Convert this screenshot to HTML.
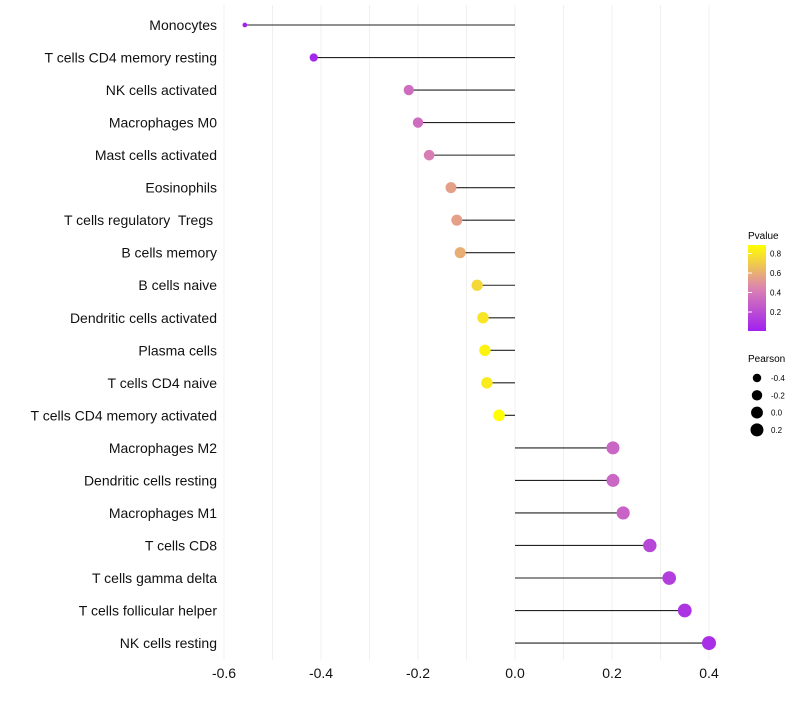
<!DOCTYPE html>
<html><head><meta charset="utf-8"><style>
body{margin:0;background:#fff;font-family:"Liberation Sans",sans-serif}
text{white-space:pre}
</style></head><body>
<svg id="c" width="800" height="700" font-family="Liberation Sans, sans-serif">
<defs><linearGradient id="pg" x1="0" y1="1" x2="0" y2="0">
<stop offset="0" stop-color="#a020f0"/><stop offset="0.5" stop-color="#dc84b0"/><stop offset="1" stop-color="#ffff00"/></linearGradient></defs>
<g id="grid"></g><g id="marks"></g><g id="labels"></g>
<g>
<text x="748" y="239" font-size="10">Pvalue</text>
<rect x="748" y="245" width="18" height="86" fill="url(#pg)"/>
<g font-size="8" id="cbt"></g>
<text x="748" y="362" font-size="10">Pearson</text>
<g id="szl" font-size="8"></g>
</g>
</svg>
<script>
const cells=["Monocytes","T cells CD4 memory resting","NK cells activated","Macrophages M0","Mast cells activated","Eosinophils","T cells regulatory  Tregs ","B cells memory","B cells naive","Dendritic cells activated","Plasma cells","T cells CD4 naive","T cells CD4 memory activated","Macrophages M2","Dendritic cells resting","Macrophages M1","T cells CD8","T cells gamma delta","T cells follicular helper","NK cells resting"];
const pearson=[-0.557,-0.415,-0.219,-0.2,-0.177,-0.132,-0.12,-0.113,-0.078,-0.066,-0.062,-0.058,-0.033,0.202,0.202,0.223,0.278,0.318,0.35,0.4];
const pvalues=[0.02,0.05,0.35,0.35,0.42,0.55,0.55,0.6,0.75,0.8,0.85,0.82,0.9,0.32,0.32,0.3,0.18,0.14,0.1,0.07];
const xTicks=[-0.6,-0.4,-0.2,0.0,0.2,0.4];
const cbTicks=[0.2,0.4,0.6,0.8];
const sizeTicks=[-0.4,-0.2,0.0,0.2];
const NS="http://www.w3.org/2000/svg";
const X=v=>515+v*485;
const Y=i=>25+i*32.53;
const R=v=>2+5*Math.pow(Math.max(0,(v+0.56)/0.96),0.45);
function lerp(a,b,t){return a.map((x,i)=>Math.round(x+(b[i]-x)*t));}
function col(p){const t=Math.max(0,Math.min(1,(p-0.01)/0.88));const A=[160,32,240],M=[220,132,176],B=[255,255,0];
const c=t<0.5?lerp(A,M,t/0.5):lerp(M,B,(t-0.5)/0.5);return `rgb(${c})`;}
function el(tag,at,parent){const e=document.createElementNS(NS,tag);for(const k in at)e.setAttribute(k,at[k]);document.getElementById(parent).appendChild(e);return e;}
for(let v=-0.6;v<=0.41;v+=0.1){const g=el('line',{x1:X(v),x2:X(v),y1:5,y2:660,stroke:'#f0f0f0','stroke-width':1},'grid');

}
xTicks.forEach(v=>{const t=el('text',{x:X(v),y:678,'font-size':14,'text-anchor':'middle',fill:'#111'},'labels');t.textContent=v.toFixed(1);

});
cells.forEach((c,i)=>{
const t=el('text',{x:217,y:Y(i)+5,'font-size':14,'text-anchor':'end',fill:'#111'},'labels');t.textContent=c;


const l=el('line',{x1:X(0),x2:X(pearson[i]),y1:Y(i),y2:Y(i),stroke:'#222','stroke-width':1.1},'marks');


const d=el('circle',{cx:X(pearson[i]),cy:Y(i),r:R(pearson[i]),fill:col(pvalues[i])},'marks');


});
cbTicks.forEach(v=>{const y=331.5-v*97.5;
const t=el('text',{x:770,y:y+3},'cbt');t.textContent=v.toFixed(1);


const k=el('line',{x1:748,x2:752,y1:y,y2:y,stroke:'#fff'},'cbt');

});
sizeTicks.forEach((v,i)=>{const y=378+i*17.3;
const c=el('circle',{cx:757,cy:y,r:R(v),fill:'#000'},'szl');


const t=el('text',{x:771,y:y+3},'szl');t.textContent=v.toFixed(1);

});
</script>
</body></html>
